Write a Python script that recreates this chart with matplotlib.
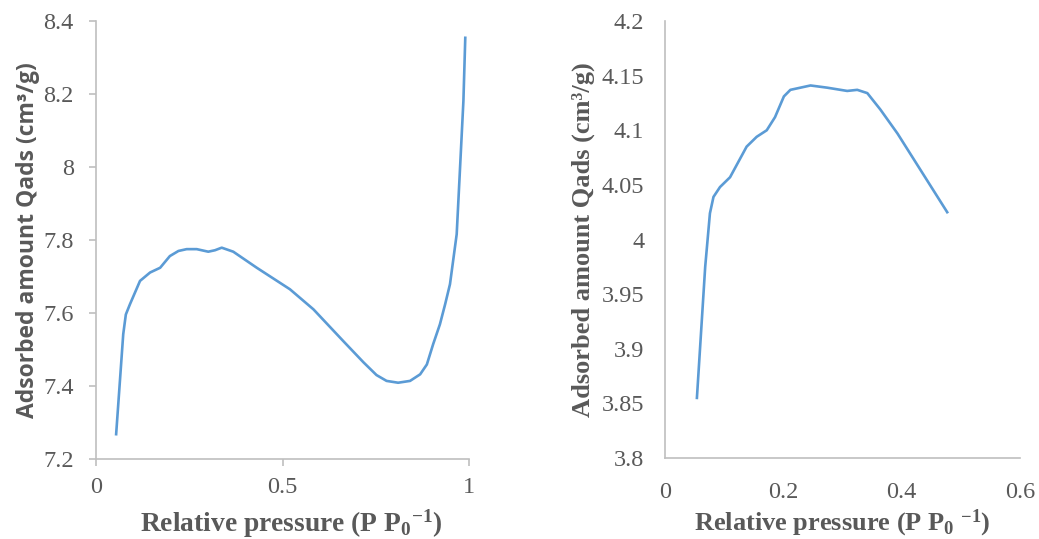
import matplotlib
matplotlib.use('Agg')
import matplotlib.pyplot as plt

# left chart: full isotherm
p_left = [0.054, 0.073, 0.080, 0.091, 0.118, 0.145, 0.172, 0.198, 0.221, 0.243,
          0.270, 0.301, 0.319, 0.337, 0.368, 0.431, 0.520, 0.583, 0.663, 0.717,
          0.752, 0.779, 0.810, 0.842, 0.869, 0.887, 0.904, 0.922, 0.936, 0.949,
          0.967, 0.976, 0.985, 0.990]
q_left = [7.268, 7.542, 7.596, 7.624, 7.688, 7.711, 7.724, 7.756, 7.770, 7.775,
          7.775, 7.768, 7.772, 7.779, 7.768, 7.724, 7.665, 7.610, 7.523, 7.465,
          7.430, 7.414, 7.409, 7.414, 7.432, 7.459, 7.515, 7.569, 7.624, 7.679,
          7.816, 7.998, 8.181, 8.354]

# right chart: low pressure part
p_right = [0.054, 0.068, 0.076, 0.082, 0.093, 0.110, 0.138, 0.155, 0.172, 0.186,
           0.201, 0.212, 0.246, 0.274, 0.308, 0.325, 0.342, 0.364, 0.393, 0.477]
q_right = [3.855, 3.975, 4.024, 4.039, 4.048, 4.057, 4.085, 4.094, 4.100, 4.112,
           4.131, 4.137, 4.141, 4.139, 4.136, 4.137, 4.134, 4.119, 4.097, 4.025]

plt.rcParams['font.family'] = ['Liberation Serif', 'DejaVu Serif']
plt.rcParams['mathtext.fontset'] = 'custom'
plt.rcParams['mathtext.rm'] = 'Liberation Serif'
plt.rcParams['mathtext.bf'] = 'Liberation Serif:bold'
plt.rcParams['mathtext.it'] = 'Liberation Serif:italic'

gray = '#595959'
line_color = '#5B9BD5'
spine_color = '#bfbfbf'
xlabel = 'Relative pressure (P P$_\\mathbf{0}$$^\\mathbf{-1}$)'
xlabel2 = 'Relative pressure (P P$_\\mathbf{0}$ $^\\mathbf{-1}$)'
ylabel = 'Adsorbed amount Qads (cm³/g)'

fig = plt.figure(figsize=(10.39, 5.39), dpi=100)
ax1 = fig.add_axes([0.0924, 0.1484, 0.359, 0.8126])
ax2 = fig.add_axes([0.640, 0.1503, 0.3417, 0.8107])

ax1.plot(p_left, q_left, color=line_color, lw=1.9)
ax1.set_xlim(0, 1)
ax1.set_ylim(7.2, 8.4)
ax1.set_xticks([0, 0.5, 1])
ax1.set_xticklabels(['0', '0.5', '1'])
ax1.set_yticks([7.2, 7.4, 7.6, 7.8, 8.0, 8.2, 8.4])
ax1.set_yticklabels(['7.2', '7.4', '7.6', '7.8', '8', '8.2', '8.4'])
ax1.tick_params(length=5, color=spine_color, width=1.2, labelsize=17.5, labelcolor=gray)
ax1.tick_params(axis='y', pad=11)
ax1.tick_params(axis='x', pad=8)

ax2.plot(p_right, q_right, color=line_color, lw=1.9)
ax2.set_xlim(0, 0.6)
ax2.set_ylim(3.8, 4.2)
ax2.set_xticks([0, 0.2, 0.4, 0.6])
ax2.set_xticklabels(['0', '0.2', '0.4', '0.6'])
ax2.set_yticks([3.8, 3.85, 3.9, 3.95, 4.0, 4.05, 4.1, 4.15, 4.2])
ax2.set_yticklabels(['3.8', '3.85', '3.9', '3.95', '4', '4.05', '4.1', '4.15', '4.2'])
ax2.tick_params(length=0, labelsize=17.5, labelcolor=gray)
ax2.tick_params(axis='y', pad=15)
ax2.tick_params(axis='x', pad=17)

for ax in (ax1, ax2):
    ax.spines['top'].set_visible(False)
    ax.spines['right'].set_visible(False)
    for s in ('left', 'bottom'):
        ax.spines[s].set_color(spine_color)
        ax.spines[s].set_linewidth(1.2)

ax1.set_ylabel(ylabel, fontsize=16.5, fontweight='bold', color=gray,
               family=['Open Sans', 'DejaVu Sans'], labelpad=2)
ax2.set_ylabel(ylabel, fontsize=19, fontweight='bold', color=gray, labelpad=5)

ax1.set_xlabel(xlabel, fontsize=19.8, fontweight='bold', color=gray, labelpad=7)
ax1.xaxis.label.set_x(0.524)
ax2.set_xlabel(xlabel2, fontsize=19, fontweight='bold', color=gray, labelpad=4)

fig.savefig('out.png', dpi=100)
